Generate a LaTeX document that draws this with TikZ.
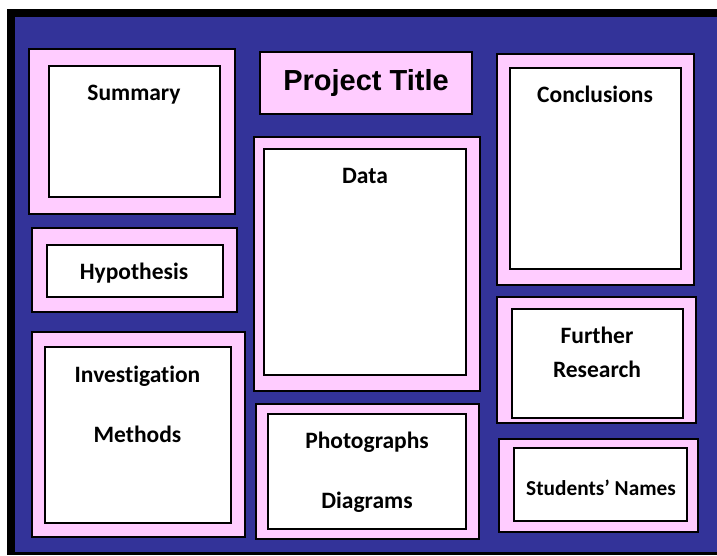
\documentclass[tikz,border=0pt]{standalone}
\usepackage{fontspec}
\setmainfont{Carlito}[Ligatures={NoCommon}]
\newfontfamily\titlefont{Liberation Sans}
\definecolor{boardblue}{HTML}{333399}
\definecolor{panelpink}{HTML}{FFCCFF}
\begin{document}
\begin{tikzpicture}[x=1pt,y=-1pt,
  panel/.style={draw=black,fill=panelpink,line width=1.5pt,inner sep=0pt,outer sep=0pt,anchor=north west},
  sheet/.style={draw=black,fill=white,line width=1.2pt,inner sep=0pt,outer sep=0pt,anchor=north west},
  lab/.style={anchor=base,inner sep=0pt,font=\fontsize{23.5}{28}\selectfont\bfseries},
  smalllab/.style={lab,font=\fontsize{21.3}{26}\selectfont\bfseries},
  titlelab/.style={anchor=base,inner sep=0pt,font=\titlefont\fontsize{29}{34}\selectfont\bfseries}]
\useasboundingbox (0,0) rectangle (717,555);
% board with its black frame
\fill[white] (0,0) rectangle (717,555);
\fill[black] (7,9) rectangle (717,555);
\fill[boardblue] (15,17) rectangle (717,552);

% left column
\node[panel,minimum width=206pt,minimum height=165pt] (sumP) at (29,49) {};
\node[sheet,minimum width=171pt,minimum height=131pt] (sumS) at (49,66) {};
\node[lab] (sumT) at (134,100) {Summary};

\node[panel,minimum width=205pt,minimum height=84pt] (hypP) at (32,228) {};
\node[sheet,minimum width=176pt,minimum height=52pt] (hypS) at (47,245) {};
\node[lab] (hypT) at (134,279) {Hypothesis};

\node[panel,minimum width=213pt,minimum height=205pt] (invP) at (32,332) {};
\node[sheet,minimum width=186pt,minimum height=176pt] (invS) at (45,347) {};
\node[lab] (invT) at (137.5,382) {Investigation};
\node[lab] (metT) at (137.5,442) {Methods};

% middle column
\node[panel,minimum width=212pt,minimum height=62pt] (ttlP) at (260,52) {};
\node[titlelab] (ttlT) at (366,90) {Project Title};

\node[panel,minimum width=226pt,minimum height=254pt] (datP) at (254,137) {};
\node[sheet,minimum width=202pt,minimum height=226pt] (datS) at (264,149) {};
\node[lab] (datT) at (365,183) {Data};

\node[panel,minimum width=223pt,minimum height=135pt] (phoP) at (256,404) {};
\node[sheet,minimum width=198pt,minimum height=115pt] (phoS) at (268,414) {};
\node[lab] (phoT) at (367,448) {Photographs};
\node[lab] (diaT) at (367,508) {Diagrams};

% right column
\node[panel,minimum width=197pt,minimum height=231pt] (conP) at (497,54) {};
\node[sheet,minimum width=171pt,minimum height=201pt] (conS) at (510,68) {};
\node[lab] (conT) at (595,102) {Conclusions};

\node[panel,minimum width=199pt,minimum height=126pt] (furP) at (497,297) {};
\node[sheet,minimum width=171pt,minimum height=109pt] (furS) at (512,309) {};
\node[lab] (furT) at (597,343) {Further};
\node[lab] (resT) at (597,377) {Research};

\node[panel,minimum width=199pt,minimum height=93pt] (stuP) at (499,439) {};
\node[sheet,minimum width=173pt,minimum height=73pt] (stuS) at (514,448) {};
\node[smalllab] (stuT) at (601,495) {Students’ Names};
\end{tikzpicture}
\end{document}
